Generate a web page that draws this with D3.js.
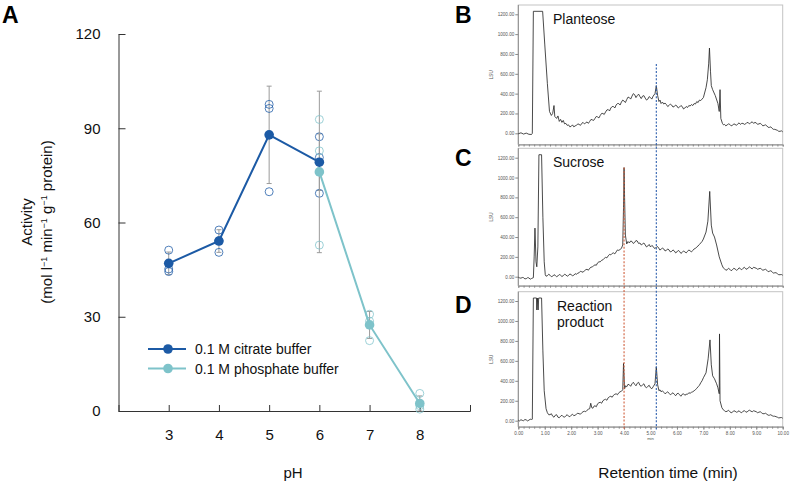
<!DOCTYPE html>
<html><head><meta charset="utf-8">
<script src="https://cdn.jsdelivr.net/npm/d3@7"></script>
<style>
body{margin:0;background:#fff}
svg{display:block}
text{font-family:"Liberation Sans",Arial,Helvetica,sans-serif}
</style>
</head><body>
<svg id="chart" width="791" height="484"></svg>
<script>
// ---------- Panel A data ----------
const phTicks = [3, 4, 5, 6, 7, 8];
const activityTicks = [0, 30, 60, 90, 120];
const citratePH = [3, 4, 5, 6];
const citrateMean = [47.0, 54.1, 87.9, 79.2];
const citrateSD = [3.6, 3.6, 15.5, 9.0];
const citrateReps = [[51.2, 45.2, 44.4], [57.6, 50.5, 54.2], [97.6, 96.3, 69.8], [87.3, 80.7, 69.3]];
const phosphatePH = [6, 7, 8];
const phosphateMean = [76.1, 27.4, 2.4];
const phosphateSD = [25.7, 4.3, 2.4];
const phosphateReps = [[92.8, 82.8, 52.8], [30.8, 28.6, 22.4], [5.6, 1.7, 0.6]];
const legendLabels = ["0.1 M citrate buffer", "0.1 M phosphate buffer"];

// ---------- Chromatogram data (time min, LSU) ----------
const chromYTicks = [0, 200, 400, 600, 800, 1000, 1200];
const chromXTicks = [0, 1, 2, 3, 4, 5, 6, 7, 8, 9, 10];
const traceB = [[0,-5],[0.1,5],[0.2,-8],[0.3,2],[0.4,-10],[0.5,-12],[0.53,0],[0.57,1230],[0.92,1230],[1.0,900],[1.1,500],[1.18,220],[1.25,180],[1.3,200],[1.35,280],[1.38,170],[1.45,150],[1.5,175],[1.55,120],[1.6,140],[1.65,110],[1.7,130],[1.75,95],[1.8,100],[1.85,80],[1.9,85],[1.95,65],[2.0,70],[2.05,85],[2.1,65],[2.15,75],[2.2,80],[2.25,95],[2.3,90],[2.35,80],[2.4,100],[2.45,110],[2.5,95],[2.55,105],[2.6,115],[2.65,100],[2.7,120],[2.75,140],[2.8,135],[2.85,130],[2.9,150],[2.95,170],[3.0,165],[3.05,155],[3.1,180],[3.15,200],[3.2,200],[3.25,190],[3.3,215],[3.35,235],[3.4,240],[3.45,225],[3.5,255],[3.55,270],[3.6,270],[3.65,255],[3.7,285],[3.75,300],[3.8,300],[3.85,285],[3.9,315],[3.95,335],[4.0,325],[4.05,310],[4.1,340],[4.15,365],[4.2,360],[4.25,345],[4.3,375],[4.35,400],[4.4,390],[4.45,360],[4.5,380],[4.55,395],[4.6,370],[4.65,350],[4.7,375],[4.75,380],[4.8,355],[4.85,335],[4.9,345],[4.95,370],[5.0,360],[5.05,345],[5.1,375],[5.17,400],[5.22,480],[5.27,380],[5.32,320],[5.36,335],[5.4,300],[5.45,315],[5.5,295],[5.55,305],[5.6,290],[5.65,270],[5.7,280],[5.75,295],[5.8,285],[5.85,265],[5.9,270],[5.95,285],[6.0,275],[6.05,255],[6.1,265],[6.15,280],[6.2,270],[6.25,245],[6.3,255],[6.35,270],[6.4,260],[6.45,280],[6.5,275],[6.55,290],[6.6,280],[6.65,300],[6.7,295],[6.75,320],[6.8,310],[6.85,335],[6.9,330],[6.95,345],[7.0,360],[7.1,460],[7.15,540],[7.2,700],[7.23,860],[7.27,620],[7.3,480],[7.35,440],[7.45,380],[7.55,300],[7.6,220],[7.63,440],[7.66,150],[7.72,100],[7.76,85],[7.8,90],[7.85,75],[7.9,85],[7.95,95],[8.0,90],[8.05,75],[8.1,80],[8.15,95],[8.2,90],[8.25,80],[8.3,95],[8.35,105],[8.4,90],[8.45,100],[8.5,100],[8.55,90],[8.6,95],[8.65,110],[8.7,105],[8.75,95],[8.8,110],[8.85,115],[8.9,100],[8.95,110],[9.0,105],[9.05,90],[9.1,95],[9.15,100],[9.2,90],[9.25,75],[9.3,80],[9.35,85],[9.4,75],[9.45,60],[9.5,60],[9.55,65],[9.6,50],[9.65,40],[9.7,40],[9.75,35],[9.8,30],[9.85,20],[9.9,20],[9.95,25],[10.0,15]];
const traceC = [[0,-5],[0.05,-12],[0.1,-15],[0.15,-8],[0.2,-10],[0.25,-22],[0.3,-20],[0.35,-10],[0.4,-12],[0.45,-25],[0.5,-18],[0.57,-10],[0.6,200],[0.63,490],[0.67,150],[0.7,100],[0.74,300],[0.78,1230],[0.88,1230],[0.93,600],[0.98,150],[1.02,20],[1.05,5],[1.1,10],[1.15,25],[1.2,15],[1.25,0],[1.3,5],[1.35,20],[1.4,12],[1.45,0],[1.5,8],[1.55,22],[1.6,15],[1.65,2],[1.7,10],[1.75,25],[1.8,18],[1.85,5],[1.9,12],[1.95,28],[2.0,20],[2.05,10],[2.1,15],[2.15,30],[2.2,25],[2.25,35],[2.3,40],[2.35,55],[2.4,50],[2.45,45],[2.5,60],[2.55,70],[2.6,75],[2.65,65],[2.7,85],[2.75,95],[2.8,100],[2.85,110],[2.9,120],[2.95,115],[3.0,140],[3.05,150],[3.1,150],[3.15,165],[3.2,170],[3.25,185],[3.3,195],[3.35,190],[3.4,210],[3.45,225],[3.5,220],[3.55,235],[3.6,240],[3.65,230],[3.7,250],[3.75,270],[3.8,265],[3.85,275],[3.9,285],[3.95,320],[3.98,700],[4.0,1100],[4.02,800],[4.05,420],[4.1,330],[4.15,355],[4.2,340],[4.25,360],[4.3,355],[4.35,335],[4.4,345],[4.45,365],[4.5,360],[4.55,335],[4.6,340],[4.65,320],[4.7,330],[4.75,340],[4.8,320],[4.85,300],[4.9,310],[4.95,325],[5.0,300],[5.05,315],[5.1,305],[5.15,285],[5.2,290],[5.25,305],[5.3,295],[5.35,270],[5.4,275],[5.45,290],[5.5,280],[5.55,260],[5.6,265],[5.65,280],[5.7,270],[5.75,250],[5.8,255],[5.85,270],[5.9,260],[5.95,240],[6.0,250],[6.05,265],[6.1,255],[6.15,235],[6.2,245],[6.25,260],[6.3,250],[6.35,240],[6.4,255],[6.45,270],[6.5,260],[6.55,250],[6.6,265],[6.65,280],[6.7,285],[6.75,300],[6.8,310],[6.85,325],[6.9,340],[6.95,355],[7.0,380],[7.1,450],[7.17,560],[7.24,860],[7.3,520],[7.35,440],[7.42,400],[7.5,320],[7.6,200],[7.7,120],[7.75,90],[7.8,80],[7.85,65],[7.9,70],[7.95,85],[8.0,75],[8.05,60],[8.1,70],[8.15,85],[8.2,78],[8.25,65],[8.3,72],[8.35,90],[8.4,80],[8.45,70],[8.5,85],[8.55,95],[8.6,80],[8.65,75],[8.7,90],[8.75,100],[8.8,85],[8.85,80],[8.9,95],[8.95,90],[9.0,85],[9.05,75],[9.1,80],[9.15,85],[9.2,75],[9.25,65],[9.3,70],[9.35,75],[9.4,65],[9.45,50],[9.5,55],[9.55,60],[9.6,50],[9.65,35],[9.7,40],[9.75,40],[9.8,30],[9.85,20],[9.9,20],[9.95,22],[10.0,15]];
const traceD = [[0,5],[0.05,-2],[0.1,10],[0.15,3],[0.2,0],[0.25,12],[0.3,8],[0.35,-2],[0.4,5],[0.45,15],[0.5,12],[0.53,15],[0.57,1230],[0.69,1230],[0.7,1110],[0.72,1230],[0.75,1110],[0.77,1230],[0.88,1230],[0.93,700],[0.98,300],[1.05,120],[1.1,80],[1.15,60],[1.2,60],[1.25,70],[1.3,45],[1.35,35],[1.4,55],[1.45,60],[1.5,35],[1.55,30],[1.6,45],[1.65,55],[1.7,40],[1.75,35],[1.8,50],[1.85,60],[1.9,45],[1.95,40],[2.0,55],[2.05,65],[2.1,50],[2.15,55],[2.2,65],[2.25,75],[2.3,70],[2.35,65],[2.4,80],[2.45,90],[2.5,95],[2.55,90],[2.6,105],[2.65,115],[2.7,120],[2.74,175],[2.78,130],[2.82,125],[2.86,145],[2.9,150],[2.95,140],[3.0,170],[3.05,180],[3.1,185],[3.15,175],[3.2,200],[3.25,210],[3.3,215],[3.35,205],[3.4,230],[3.45,240],[3.5,245],[3.55,235],[3.6,255],[3.65,265],[3.7,270],[3.75,260],[3.8,280],[3.85,290],[3.9,295],[3.95,310],[3.98,575],[4.02,320],[4.06,350],[4.1,340],[4.15,365],[4.2,360],[4.25,345],[4.3,370],[4.35,385],[4.4,365],[4.45,350],[4.5,375],[4.55,385],[4.6,355],[4.65,345],[4.7,360],[4.75,370],[4.8,340],[4.85,330],[4.9,345],[4.95,355],[5.0,330],[5.05,320],[5.1,340],[5.17,370],[5.22,540],[5.27,360],[5.32,300],[5.36,310],[5.4,290],[5.45,300],[5.5,285],[5.55,270],[5.6,280],[5.65,290],[5.7,275],[5.75,260],[5.8,270],[5.85,280],[5.9,265],[5.95,250],[6.0,270],[6.05,275],[6.1,260],[6.15,245],[6.2,265],[6.25,270],[6.3,255],[6.35,265],[6.4,265],[6.45,280],[6.5,275],[6.55,285],[6.6,290],[6.65,300],[6.7,310],[6.75,325],[6.8,340],[6.85,355],[6.9,380],[6.95,400],[7.0,430],[7.1,480],[7.18,620],[7.25,810],[7.3,560],[7.35,450],[7.42,420],[7.5,370],[7.55,330],[7.6,270],[7.61,870],[7.63,200],[7.7,130],[7.75,110],[7.8,100],[7.85,90],[7.9,95],[7.95,105],[8.0,90],[8.05,80],[8.1,85],[8.15,100],[8.2,95],[8.25,85],[8.3,90],[8.35,100],[8.4,85],[8.45,80],[8.5,95],[8.55,100],[8.6,90],[8.65,85],[8.7,100],[8.75,105],[8.8,95],[8.85,90],[8.9,100],[8.95,95],[9.0,90],[9.05,80],[9.1,85],[9.15,90],[9.2,80],[9.25,70],[9.3,70],[9.35,75],[9.4,65],[9.45,55],[9.5,55],[9.55,60],[9.6,50],[9.65,45],[9.7,45],[9.75,40],[9.8,35],[9.85,28],[9.9,30],[9.95,32],[10.0,25]];
const panelLabels = [["Planteose"], ["Sucrose"], ["Reaction", "product"]];
const markerTimes = [4.0, 5.22];          // red (sucrose), blue (planteose)
const markerStartValues = [1100, 700];
const markerStartPanel = [1, 0];

const svg = d3.select("#chart");
const citrateColor = "#1c5aa5", phosphateColor = "#7ec3ca", errColor = "#9b9b9b";

// ================= Panel A =================
const x = d3.scaleLinear().domain([2, 9]).range([118.5, 470]);
const y = d3.scaleLinear().domain([0, 120]).range([411, 34]);
const gA = svg.append("g");

const yAxis = gA.append("g").attr("transform", "translate(118.5,0)")
  .call(d3.axisLeft(y).tickValues(activityTicks).tickSizeInner(-7).tickSizeOuter(0).tickPadding(18));
const xAxis = gA.append("g").attr("transform", "translate(0,411)")
  .call(d3.axisBottom(x).tickValues(phTicks).tickFormat(d3.format("d")).tickSizeInner(-6).tickSizeOuter(-6).tickPadding(18));
[yAxis, xAxis].forEach(a => {
  a.selectAll("path,line").attr("stroke", "#333").attr("stroke-width", 1);
  a.selectAll("text").attr("font-size", 15).attr("fill", "#111")
   .style("font-family", '"Liberation Sans",Arial,sans-serif');
});

gA.append("text").attr("x", 293).attr("y", 478).attr("text-anchor", "middle")
  .attr("font-size", 15).attr("fill", "#111").text("pH");
const yl = gA.append("g").attr("transform", "translate(0,222) rotate(-90)");
yl.append("text").attr("x", 0).attr("y", 32).attr("text-anchor", "middle").attr("font-size", 15).attr("fill", "#111").text("Activity");
const yl2 = yl.append("text").attr("x", 0).attr("y", 52).attr("text-anchor", "middle").attr("font-size", 15).attr("fill", "#111");
yl2.append("tspan").text("(mol l");
yl2.append("tspan").attr("font-size", 9).attr("dy", -5).text("−1");
yl2.append("tspan").attr("dy", 5).text(" min");
yl2.append("tspan").attr("font-size", 9).attr("dy", -5).text("−1");
yl2.append("tspan").attr("dy", 5).text(" g");
yl2.append("tspan").attr("font-size", 9).attr("dy", -5).text("−1");
yl2.append("tspan").attr("dy", 5).text(" protein)");

function series(phs, means, sds, reps, color) {
  const d = phs.map((p, i) => ({p, m: means[i], s: sds[i], r: reps[i]}));
  const eb = gA.append("g").attr("stroke", errColor).attr("stroke-width", 1);
  d.forEach(o => {
    eb.append("line").attr("x1", x(o.p)).attr("x2", x(o.p)).attr("y1", y(o.m - o.s)).attr("y2", y(o.m + o.s));
    [o.m - o.s, o.m + o.s].forEach(v => eb.append("line")
      .attr("x1", x(o.p) - 2.5).attr("x2", x(o.p) + 2.5).attr("y1", y(v)).attr("y2", y(v)));
  });
  const rg = gA.append("g");
  d.forEach(o => o.r.forEach(v => rg.append("circle").attr("cx", x(o.p)).attr("cy", y(v)).attr("r", 4)
    .attr("fill", "none").attr("stroke", color).attr("stroke-width", 0.9).attr("opacity", 0.85)));
  return d;
}
const dC = series(citratePH, citrateMean, citrateSD, citrateReps, citrateColor);
const dP = series(phosphatePH, phosphateMean, phosphateSD, phosphateReps, phosphateColor);
const line = d3.line().x(o => x(o.p)).y(o => y(o.m));
[[dP, phosphateColor], [dC, citrateColor]].forEach(([d, c]) => {
  gA.append("path").datum(d).attr("d", line).attr("fill", "none").attr("stroke", c).attr("stroke-width", 2);
});
[[dP, phosphateColor], [dC, citrateColor]].forEach(([d, c]) => {
  gA.selectAll(null).data(d).enter().append("circle").attr("cx", o => x(o.p)).attr("cy", o => y(o.m))
    .attr("r", 4.8).attr("fill", c);
});
// legend
[citrateColor, phosphateColor].forEach((c, i) => {
  const ly = 349 + i * 19.5;
  gA.append("line").attr("x1", 148).attr("x2", 186).attr("y1", ly).attr("y2", ly).attr("stroke", c).attr("stroke-width", 2.2);
  gA.append("circle").attr("cx", 168).attr("cy", ly).attr("r", 4.8).attr("fill", c);
  gA.append("text").attr("x", 195).attr("y", ly + 5).attr("font-size", 14).attr("fill", "#111").text(legendLabels[i]);
});

// ================= Panels B-D =================
const xc = d3.scaleLinear().domain([0, 10]).range([518.3, 782.7]);
const panelGeom = [
  {top: 5, y0: 133.3, y1200: 14.3, bottom: 144.5},
  {top: 148.3, y0: 276.7, y1200: 157.7, bottom: 285.7},
  {top: 291.7, y0: 420.7, y1200: 301, bottom: 426.7}
];
const traces = [traceB, traceC, traceD];
const ycs = panelGeom.map(g => d3.scaleLinear().domain([0, 1200]).range([g.y0, g.y1200]));

panelGeom.forEach((g, i) => {
  const gp = svg.append("g");
  const yc = ycs[i];
  gp.append("rect").attr("x", xc(0)).attr("y", g.top).attr("width", xc(10) - xc(0)).attr("height", g.bottom - g.top)
    .attr("fill", "#fff").attr("stroke", "#c4c4c4").attr("stroke-width", 1);
  const ya = gp.append("g").attr("transform", `translate(${xc(0)},0)`)
    .call(d3.axisLeft(yc).tickValues(chromYTicks).tickSize(3).tickPadding(1).tickFormat(d3.format(".2f")));
  ya.select(".domain").remove();
  gp.append("line").attr("x1", xc(0)).attr("x2", xc(0)).attr("y1", g.top).attr("y2", g.bottom).attr("stroke", "#8a8a8a");
  ya.selectAll("line").attr("stroke", "#888");
  ya.selectAll("text").attr("font-size", 4.6).attr("fill", "#555");
  gp.append("text").attr("transform", `translate(${xc(0) - 25},${(g.top + g.bottom) / 2}) rotate(-90)`)
    .attr("text-anchor", "middle").attr("font-size", 4.6).attr("fill", "#555").text("LSU");
  const xa = gp.append("g").attr("transform", `translate(0,${g.bottom})`)
    .call(d3.axisBottom(xc).ticks(50).tickSize(2).tickFormat(""));
  xa.select(".domain").attr("stroke", "#8a8a8a");
  xa.selectAll("line").attr("stroke", "#888");
  if (i === 2) {
    const xl = gp.append("g").attr("transform", `translate(0,${g.bottom})`)
      .call(d3.axisBottom(xc).tickValues(chromXTicks).tickSize(3).tickPadding(2).tickFormat(d3.format(".2f")));
    xl.select(".domain").remove();
    xl.selectAll("line").attr("stroke", "#888");
    xl.selectAll("text").attr("font-size", 4.6).attr("fill", "#555");
    gp.append("text").attr("x", xc(5)).attr("y", g.bottom + 13).attr("text-anchor", "middle")
      .attr("font-size", 4.2).attr("fill", "#555").text("min");
  }
  gp.append("path").datum(traces[i])
    .attr("d", d3.line().x(d => xc(d[0])).y(d => yc(d[1])))
    .attr("fill", "none").attr("stroke", "#2b2b2b").attr("stroke-width", 0.85).attr("stroke-linejoin", "round");
  panelLabels[i].forEach((t, k) => {
    gp.append("text").attr("x", i === 2 ? 557 : 553).attr("y", (i === 2 ? g.top + 19 : g.top + 18.5) + k * 16.5)
      .attr("font-size", 14).attr("fill", "#111").text(t);
  });
});

// marker lines
const markerColors = ["#d0603e", "#2d5fae"];
markerTimes.forEach((t, i) => {
  svg.append("line").attr("x1", xc(t)).attr("x2", xc(t))
    .attr("y1", ycs[markerStartPanel[i]](markerStartValues[i])).attr("y2", 430)
    .attr("stroke", markerColors[i]).attr("stroke-width", 1.1).attr("stroke-dasharray", "2,1.6");
});

svg.append("text").attr("x", 668).attr("y", 478).attr("text-anchor", "middle").attr("font-size", 15.5)
  .attr("fill", "#111").text("Retention time (min)");

const letters = [["A", 2, 23], ["B", 455, 23], ["C", 455, 166], ["D", 455, 313]];
letters.forEach(([t, lx, ly]) => svg.append("text").attr("x", lx).attr("y", ly)
  .attr("font-size", 23).attr("font-weight", "bold").attr("fill", "#000").text(t));
</script>
</body></html>
